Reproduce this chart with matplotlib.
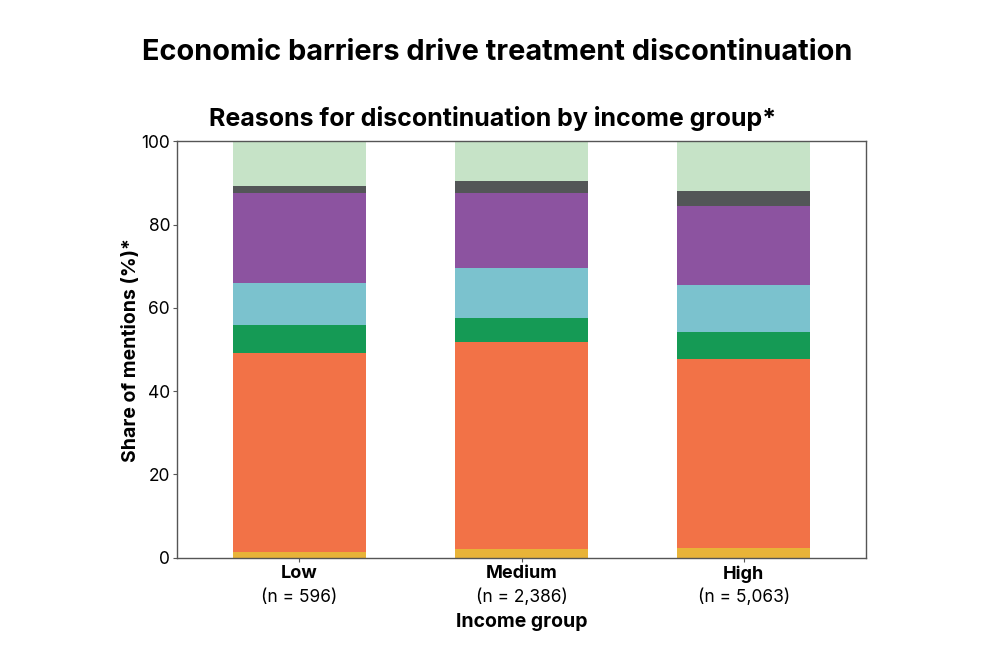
import matplotlib
matplotlib.use('Agg')
import numpy as np
from matplotlib import pyplot as plt

plt.rcParams['font.family'] = ['Inter', 'DejaVu Sans']

# Income groups and sample sizes
groups = ['Low', 'Medium', 'High']
n_labels = ['(n = 596)', '(n = 2,386)', '(n = 5,063)']

# Share of mentions (%) per reason, bottom to top
seg_yellow = [1.3, 2.1, 2.4]
seg_orange = [47.8, 49.7, 45.3]
seg_green = [6.7, 5.9, 6.5]
seg_cyan = [10.1, 11.9, 11.3]
seg_purple = [21.7, 18.1, 19.0]
seg_grey = [1.7, 2.9, 3.6]
seg_light = [10.7, 9.4, 11.9]

series = [seg_yellow, seg_orange, seg_green, seg_cyan, seg_purple, seg_grey, seg_light]
colors = ['#E8B338', '#F27247', '#159A55', '#7BC2CE', '#8C53A0', '#535657', '#C6E3C7']

fig = plt.figure(figsize=(10, 6.64), dpi=100)
ax = fig.add_axes([0.177, 0.160, 0.689, 0.627])

x = np.arange(len(groups))
bottom = np.zeros(len(groups))
for vals, c in zip(series, colors):
    ax.bar(x, vals, width=0.6, bottom=bottom, color=c, linewidth=0)
    bottom += np.array(vals)

ax.set_xlim(-0.55, 2.55)
ax.set_ylim(0, 100)
ax.set_yticks([0, 20, 40, 60, 80, 100])
ax.tick_params(axis='y', labelsize=12.5, length=3, color='#555555', pad=2)
ax.tick_params(axis='x', length=3, color='#555555')
ax.set_xticks(x)
ax.set_xticklabels([])
for s in ax.spines.values():
    s.set_color('#555555')
    s.set_linewidth(1.0)

# two-line tick labels: bold group, normal sample size
for i in range(len(groups)):
    ax.text(x[i], -0.018, groups[i], transform=ax.get_xaxis_transform(),
            ha='center', va='top', fontsize=13, fontweight='bold')
    ax.text(x[i], -0.074, n_labels[i], transform=ax.get_xaxis_transform(),
            ha='center', va='top', fontsize=12.5)

ax.text(1, -0.132, 'Income group', transform=ax.get_xaxis_transform(),
        ha='center', va='top', fontsize=14, fontweight='bold')
ax.set_ylabel('Share of mentions (%)*', fontsize=14, fontweight='bold', labelpad=1)

fig.text(0.497, 0.921, 'Economic barriers drive treatment discontinuation',
         ha='center', va='center', fontsize=20.8, fontweight='bold')
fig.text(0.4925, 0.821, 'Reasons for discontinuation by income group*',
         ha='center', va='center', fontsize=18, fontweight='bold')

fig.savefig('out.png', dpi=100)
